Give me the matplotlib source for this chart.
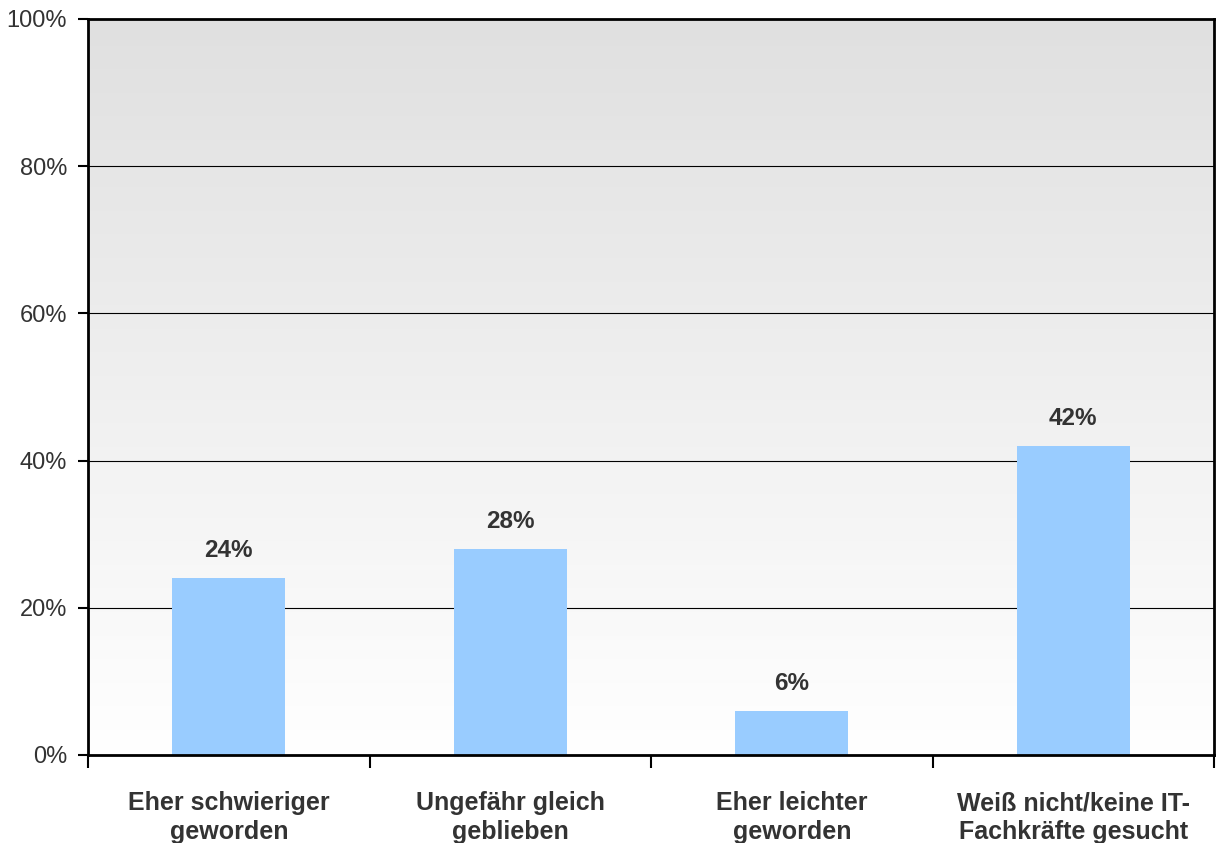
import numpy as np
import matplotlib
matplotlib.use("Agg")
import matplotlib.pyplot as plt
from matplotlib.ticker import FixedLocator, NullFormatter

categories = ["Eher schwieriger\ngeworden", "Ungefähr gleich\ngeblieben",
              "Eher leichter\ngeworden", "Weiß nicht/keine IT-\nFachkräfte gesucht"]
values = [24, 28, 6, 42]
value_labels = ["24%", "28%", "6%", "42%"]
y_ticks = [0, 20, 40, 60, 80, 100]
y_tick_labels = ["0%", "20%", "40%", "60%", "80%", "100%"]

plt.rcParams['font.family'] = ['Liberation Sans', 'DejaVu Sans']
text_color = "#333333"

fig = plt.figure(figsize=(12.16, 8.43), dpi=100)
ax = fig.add_axes([0.0724, 0.1044, 0.9260, 0.8731])

n = len(categories)
ax.set_xlim(-0.5, n - 0.5)
ax.set_ylim(0, 100)

# vertical grey-to-white gradient background
grad = np.linspace(1.0, 0.0, 256).reshape(-1, 1)
top_c = np.array([0.878, 0.878, 0.878])
bot_c = np.array([1.0, 1.0, 1.0])
img = bot_c + (top_c - bot_c) * grad[..., None]
img = img.reshape(256, 1, 3)
ax.imshow(img, extent=(-0.5, n - 0.5, 0, 100), aspect='auto', zorder=0,
          interpolation='bilinear')

for y in y_ticks[1:-1]:
    ax.axhline(y, color="black", linewidth=0.8, zorder=1)

x = np.arange(n)
ax.bar(x, values, width=0.40, color="#99ccff", zorder=2)
for xi, v, lab in zip(x, values, value_labels):
    ax.text(xi, v + 2.2, lab, ha="center", va="bottom", fontsize=17.5,
            fontweight="bold", color=text_color)

for side in ax.spines.values():
    side.set_color("black")
    side.set_linewidth(2)

ax.yaxis.set_major_locator(FixedLocator(y_ticks))
ax.set_yticklabels(y_tick_labels, fontsize=17, color=text_color)
ax.tick_params(axis='y', direction='out', length=7, width=1.5, pad=8)

ax.xaxis.set_major_locator(FixedLocator(np.arange(n + 1) - 0.5))
ax.xaxis.set_major_formatter(NullFormatter())
ax.xaxis.set_minor_locator(FixedLocator(x))
ax.set_xticklabels(categories, minor=True, fontsize=18, fontweight="bold",
                   color=text_color, linespacing=1.25)
ax.tick_params(axis='x', which='major', direction='out', length=9, width=1.5)
ax.tick_params(axis='x', which='minor', length=0, pad=26)

fig.savefig("out.png", dpi=100)
